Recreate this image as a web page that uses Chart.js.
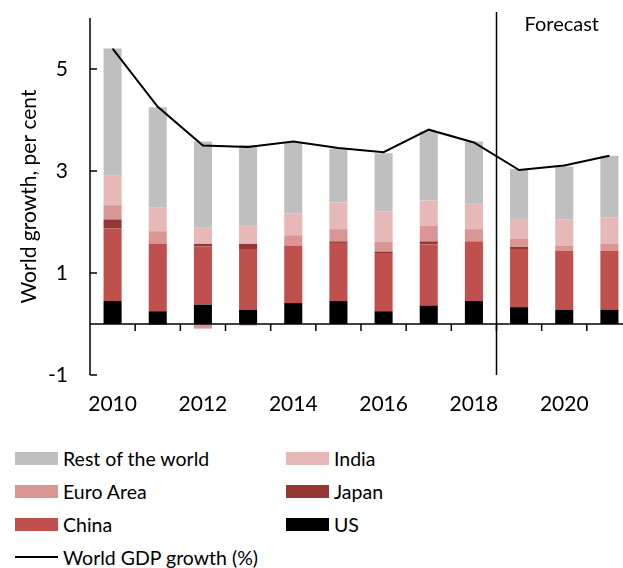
<!DOCTYPE html>
<html>
<head>
<meta charset="utf-8">
<script src="https://cdn.jsdelivr.net/npm/chart.js@4/dist/chart.umd.min.js"></script>
<style>
    body { margin: 0; width: 623px; height: 568px; overflow: hidden; background: #fff; font-family: Lato, sans-serif; position: relative; }
    #chart { position: absolute; left: 0; top: 0; }
    #legend { position: absolute; left: 15px; top: 443px; width: 600px; }
    .item { position: absolute; display: flex; align-items: center; font-size: 19.5px; color: #000; white-space: nowrap; height: 30px; }
    .swatch { width: 43px; height: 13px; margin-right: 5px; }
    .lineSwatch { width: 43px; height: 2px; background: #000; margin-right: 5px; }
</style>
</head>
<body>
<canvas id="chart" width="640" height="425"></canvas>
<div id="legend"></div>
<script>
// Chart data
const years = ['2010', '2011', '2012', '2013', '2014', '2015', '2016', '2017', '2018', '2019', '2020', '2021'];
const us    = [0.45, 0.25, 0.38, 0.28, 0.41, 0.45, 0.25, 0.36, 0.45, 0.33, 0.28, 0.28];
const china = [1.42, 1.33, 1.14, 1.19, 1.13, 1.14, 1.14, 1.20, 1.17, 1.14, 1.15, 1.15];
const japan = [0.18, -0.01, 0.05, 0.10, 0.00, 0.03, 0.03, 0.06, 0.01, 0.04, 0.00, 0.00];
const euro  = [0.28, 0.24, -0.09, -0.03, 0.20, 0.24, 0.20, 0.31, 0.23, 0.16, 0.11, 0.14];
const india = [0.59, 0.47, 0.33, 0.37, 0.43, 0.52, 0.59, 0.49, 0.51, 0.39, 0.51, 0.52];
const rest  = [2.48, 1.96, 1.68, 1.57, 1.38, 1.06, 1.14, 1.36, 1.21, 0.98, 1.04, 1.21];
const world = [5.40, 4.26, 3.50, 3.47, 3.58, 3.45, 3.37, 3.81, 3.56, 3.02, 3.11, 3.30];
const yTicks = [-1, 1, 3, 5];
const forecastAfter = '2018';

const FONT = 'Lato, sans-serif';

// Bar series, bottom to top
const barSeries = [
    { label: 'US', data: us, color: '#000000' },
    { label: 'China', data: china, color: '#c0504d' },
    { label: 'Japan', data: japan, color: '#953735' },
    { label: 'Euro Area', data: euro, color: '#da9694' },
    { label: 'India', data: india, color: '#e6b8b7' },
    { label: 'Rest of the world', data: rest, color: '#bfbfbf' }
];

// Axes, zero line and forecast marker drawn on top
const extrasPlugin = {
    id: 'extras',
    afterDatasetsDraw(chart) {
        const ctx = chart.ctx;
        const x = chart.scales.x;
        const y = chart.scales.y;
        const area = chart.chartArea;
        const zeroY = y.getPixelForValue(0);

        ctx.save();
        ctx.strokeStyle = '#000';
        ctx.lineWidth = 1.5;

        // y axis line
        ctx.beginPath();
        ctx.moveTo(area.left, area.top);
        ctx.lineTo(area.left, area.bottom);
        ctx.stroke();

        // y ticks pointing inward
        yTicks.forEach(v => {
            const py = y.getPixelForValue(v);
            ctx.beginPath();
            ctx.moveTo(area.left, py);
            ctx.lineTo(area.left + 7, py);
            ctx.stroke();
        });

        // zero line with ticks between categories
        ctx.beginPath();
        ctx.moveTo(area.left, zeroY);
        ctx.lineTo(area.right, zeroY);
        ctx.stroke();
        for (let i = 1; i < years.length; i++) {
            const px = (x.getPixelForValue(i - 1) + x.getPixelForValue(i)) / 2;
            ctx.beginPath();
            ctx.moveTo(px, zeroY);
            ctx.lineTo(px, zeroY + 7);
            ctx.stroke();
        }

        // forecast divider
        const fi = years.indexOf(forecastAfter);
        const fx = (x.getPixelForValue(fi) + x.getPixelForValue(fi + 1)) / 2;
        ctx.beginPath();
        ctx.moveTo(fx, y.getPixelForValue(6.12));
        ctx.lineTo(fx, y.getPixelForValue(-1));
        ctx.stroke();

        ctx.fillStyle = '#000';
        ctx.font = '20px ' + FONT;
        ctx.textAlign = 'left';
        ctx.textBaseline = 'middle';
        ctx.fillText('Forecast', fx + 28, y.getPixelForValue(5.88));
        ctx.restore();
    }
};

const datasets = barSeries.map(s => ({
    type: 'bar',
    label: s.label,
    data: s.data,
    backgroundColor: s.color,
    borderWidth: 0,
    stack: 'growth',
    order: 1,
    barPercentage: 0.4,
    categoryPercentage: 1
}));

datasets.push({
    type: 'line',
    label: 'World GDP growth (%)',
    data: world,
    borderColor: '#000',
    borderWidth: 2,
    pointRadius: 0,
    tension: 0,
    fill: false,
    stack: 'world',
    order: 0
});

new Chart(document.getElementById('chart'), {
    data: { labels: years, datasets: datasets },
    options: {
        responsive: false,
        animation: false,
        layout: { padding: { top: 18, right: 8, bottom: 0, left: 0 } },
        plugins: {
            legend: { display: false },
            tooltip: { enabled: false }
        },
        scales: {
            x: {
                stacked: true,
                grid: { display: false, drawTicks: false },
                border: { display: false },
                ticks: {
                    autoSkip: false,
                    maxRotation: 0,
                    padding: 17,
                    color: '#000',
                    font: { family: FONT, size: 21 },
                    callback: (v, i) => (i % 2 === 0 ? years[i] : '')
                },
                afterFit(scale) {
                    scale.height = 50;
                    scale.paddingLeft = 0;
                    scale.paddingRight = 0;
                }
            },
            y: {
                stacked: true,
                min: -1,
                max: 6,
                grid: { display: false, drawTicks: false },
                border: { display: false },
                afterBuildTicks(scale) { scale.ticks = yTicks.map(v => ({ value: v })); },
                ticks: {
                    padding: 22,
                    color: '#000',
                    font: { family: FONT, size: 21 }
                },
                title: {
                    display: true,
                    text: 'World growth, per cent',
                    color: '#000',
                    font: { family: FONT, size: 21 },
                    padding: { top: 17, bottom: 0 }
                },
                afterFit(scale) {
                    scale.width = 90;
                    scale.paddingTop = 0;
                    scale.paddingBottom = 0;
                }
            }
        }
    },
    plugins: [extrasPlugin]
});

// Legend built from the series definitions
const legendItems = [
    { label: 'Rest of the world', color: '#bfbfbf', col: 0, row: 0 },
    { label: 'India', color: '#e6b8b7', col: 1, row: 0 },
    { label: 'Euro Area', color: '#da9694', col: 0, row: 1 },
    { label: 'Japan', color: '#953735', col: 1, row: 1 },
    { label: 'China', color: '#c0504d', col: 0, row: 2 },
    { label: 'US', color: '#000000', col: 1, row: 2 },
    { label: 'World GDP growth (%)', line: true, col: 0, row: 3 }
];
const legend = document.getElementById('legend');
legendItems.forEach(item => {
    const el = document.createElement('div');
    el.className = 'item';
    el.style.left = (item.col * 271) + 'px';
    el.style.top = (item.row * 33) + 'px';
    const sw = document.createElement('span');
    if (item.line) {
        sw.className = 'lineSwatch';
    } else {
        sw.className = 'swatch';
        sw.style.background = item.color;
    }
    const txt = document.createElement('span');
    txt.textContent = item.label;
    el.appendChild(sw);
    el.appendChild(txt);
    legend.appendChild(el);
});
</script>
</body>
</html>
